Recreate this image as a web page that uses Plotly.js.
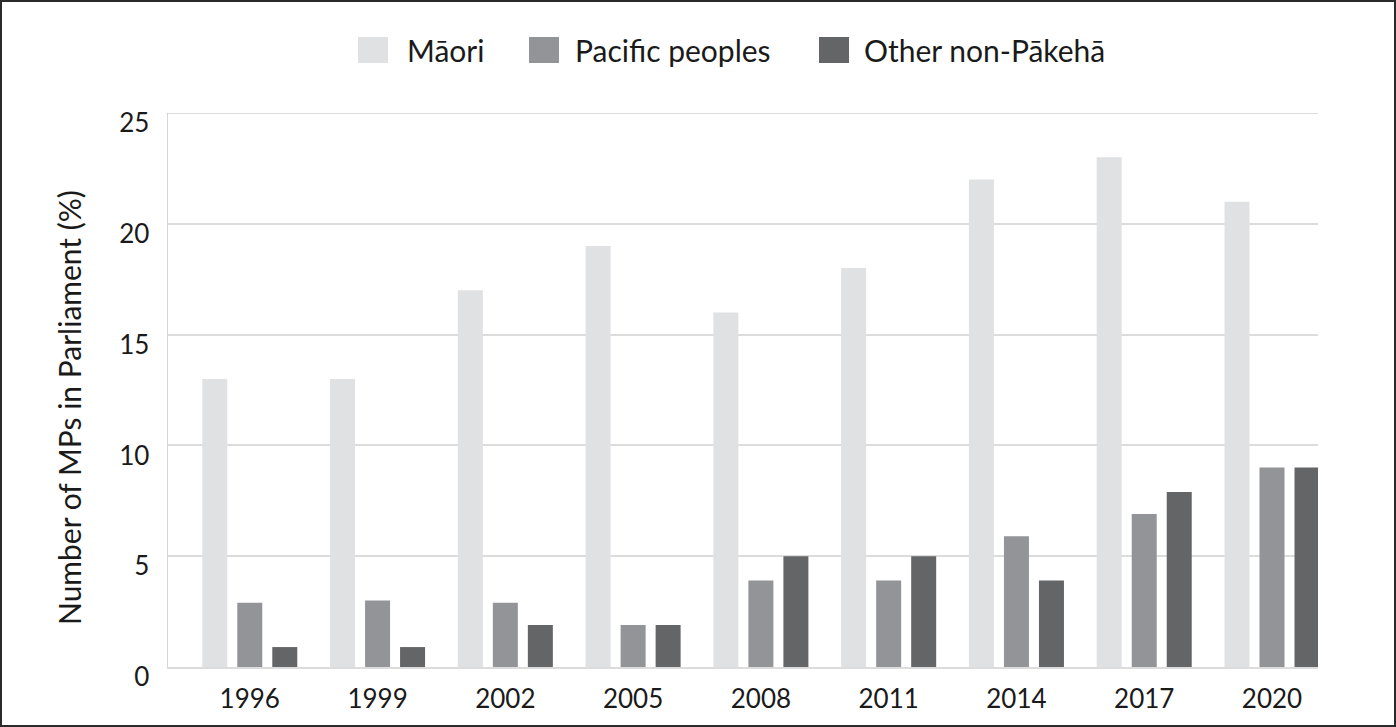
<!DOCTYPE html>
<html><head><meta charset="utf-8">
<script src="https://cdn.plot.ly/plotly-3.0.1.min.js"></script>
<style>
html,body{margin:0;padding:0;background:#fff;}
#wrap{position:relative;width:1396px;height:727px;}
#chart{position:absolute;left:0;top:0;width:1396px;height:727px;}
#frame{position:absolute;left:0;top:0;width:1396px;height:727px;box-sizing:border-box;border:2px solid #2b2b2b;pointer-events:none;}
</style></head><body>
<div id="wrap"><div id="chart"></div><div id="frame"></div></div>
<script>
const years = ['1996','1999','2002','2005','2008','2011','2014','2017','2020'];
const maori = [13.0, 13.0, 17.0, 19.0, 16.0, 18.0, 22.0, 23.0, 21.0];
const pacific = [2.9, 3.0, 2.9, 1.9, 3.9, 3.9, 5.9, 6.9, 9.0];
const other = [0.9, 0.9, 1.9, 1.9, 5.0, 5.0, 3.9, 7.9, 9.0];
const seriesNames = ['Māori', 'Pacific peoples', 'Other non-Pākehā'];
const seriesColors = ['#e0e1e3', '#939497', '#646567'];
const seriesValues = [maori, pacific, other];
const yTitle = 'Number of MPs in Parliament (%)';

const FONT = 'Lato, "Noto Sans", sans-serif';
const TXT = '#1a1a1a';
const GRID = '#dcdcdd';

// plot-area geometry (pixels) used to place legend / title in paper units
const M = {l: 168, r: 78, t: 113, b: 60};
const W = 1396, H = 727;
const PW = W - M.l - M.r, PH = H - M.t - M.b;
const px2x = px => (px - M.l) / PW;
const py2y = py => (H - M.b - py) / PH;

const traces = seriesValues.map((v, i) => ({
  type: 'bar', x: years, y: v, name: seriesNames[i],
  marker: {color: seriesColors[i], line: {width: 0}},
  hoverinfo: 'x+y+name'
}));

// custom legend: large swatches like the reference
const legendSwatchLeft = [358, 529, 819];
const legendTextLeft = [405, 573, 862];
const legendShapes = seriesNames.map((n, i) => ({
  type: 'rect', xref: 'paper', yref: 'paper', layer: 'above',
  x0: px2x(legendSwatchLeft[i]), x1: px2x(legendSwatchLeft[i] + 30),
  y0: py2y(63), y1: py2y(37),
  fillcolor: seriesColors[i], line: {width: 0}
}));
const legendTexts = seriesNames.map((n, i) => ({
  xref: 'paper', yref: 'paper', x: px2x(legendTextLeft[i]), y: py2y(50),
  xanchor: 'left', yanchor: 'middle', showarrow: false, text: n,
  font: {family: FONT, size: 30, color: TXT}
}));
const titleAnno = {
  xref: 'paper', yref: 'paper', x: px2x(69), y: py2y(408),
  xanchor: 'center', yanchor: 'middle', showarrow: false, textangle: -90,
  text: yTitle, font: {family: FONT, size: 30, color: TXT}
};

const topGrid = {type: 'line', xref: 'paper', yref: 'y', x0: 0, x1: 1, y0: 25, y1: 25,
                 line: {color: GRID, width: 2}, layer: 'below'};

const layout = {
  width: W, height: H,
  margin: {l: M.l, r: M.r, t: M.t, b: M.b, pad: 0},
  paper_bgcolor: '#ffffff', plot_bgcolor: '#ffffff',
  font: {family: FONT, size: 26, color: TXT},
  barmode: 'group', bargap: 0.178, bargroupgap: 0.286,
  showlegend: false,
  shapes: [topGrid].concat(legendShapes),
  annotations: legendTexts.concat([titleAnno]),
  xaxis: {type: 'category', range: [-0.64, 8.36], showgrid: false, zeroline: false,
          showline: true, linecolor: GRID, linewidth: 2, ticks: '',
          tickfont: {family: FONT, size: 26, color: TXT}, ticklabelstandoff: 8,
          fixedrange: true},
  yaxis: {range: [0, 25], dtick: 5, tick0: 0, showgrid: true, gridcolor: GRID, gridwidth: 2,
          zeroline: false, showline: true, linecolor: '#d6d6d6', linewidth: 1.5, ticks: '',
          tickfont: {family: FONT, size: 26, color: TXT}, ticklabelstandoff: 12,
          ticklabelshift: 10, fixedrange: true}
};

Plotly.newPlot('chart', traces, layout, {displayModeBar: false, staticPlot: true});
</script>
</body></html>
